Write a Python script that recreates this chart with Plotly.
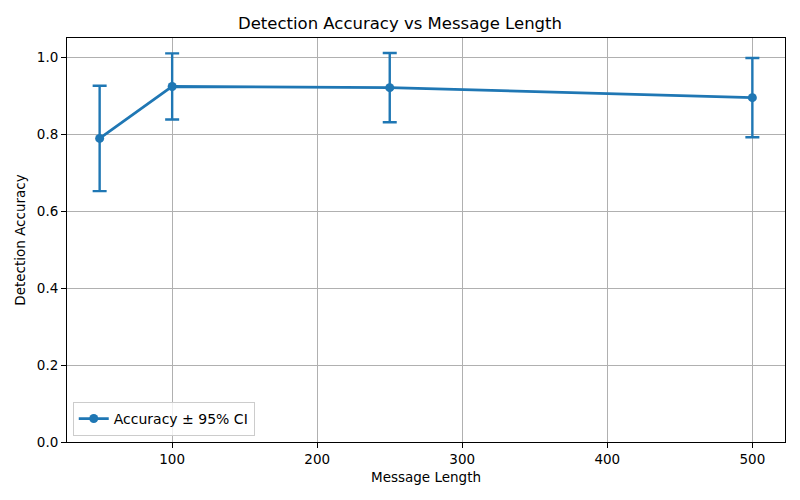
import plotly.graph_objects as go

# message lengths and detection accuracy with 95% CI half-widths
msg_len = [50, 100, 250, 500]
accuracy = [0.789, 0.924, 0.921, 0.895]
ci_half = [0.137, 0.086, 0.090, 0.103]

blue = '#1f77b4'
font = 'DejaVu Sans'

fig = go.Figure()

fig.add_trace(
    go.Scatter(x=msg_len, y=accuracy,
               mode='lines+markers',
               name='Accuracy ± 95% CI',
               line=dict(color=blue, width=2.8),
               marker=dict(color=blue, size=9),
               error_y=dict(type='data', array=ci_half, visible=True,
                            color=blue, thickness=2.4, width=7)
    )
)

axis_style = dict(showline=True, mirror=True, linecolor='black', linewidth=1,
                  showgrid=True, gridcolor='#b0b0b0', gridwidth=1,
                  ticks='outside', ticklen=5, tickcolor='black', automargin=False,
                  tickfont=dict(size=13.5, color='black'), zeroline=False)

fig.update_layout(
    width=800, height=500,
    margin=dict(l=67, r=15, t=38, b=58),
    paper_bgcolor='white', plot_bgcolor='white',
    font=dict(family=font, color='black'),
    title=dict(text='Detection Accuracy vs Message Length', x=0.5, xanchor='center',
               y=0.954, yanchor='middle', font=dict(size=16.5, color='black')),
    xaxis=dict(axis_style, range=[27.5, 522.5], tickvals=[100, 200, 300, 400, 500],
               title=dict(text='Message Length', font=dict(size=13.5), standoff=6)),
    yaxis=dict(axis_style, range=[0, 1.05], tickvals=[0, 0.2, 0.4, 0.6, 0.8, 1.0],
               ticktext=['0.0', '0.2', '0.4', '0.6', '0.8', '1.0'],
               title=dict(text='Detection Accuracy', font=dict(size=13.5), standoff=8)),
    showlegend=True,
    legend=dict(x=0.008, y=0.015, xanchor='left', yanchor='bottom',
                bgcolor='rgba(255,255,255,0.8)', bordercolor='#cccccc', borderwidth=1,
                font=dict(size=14))
)

# drop the default body margin so the figure sits at the page corner
fig.write_html("out.html", config={'displayModeBar': False},
               post_script="document.body.style.margin='0';")
